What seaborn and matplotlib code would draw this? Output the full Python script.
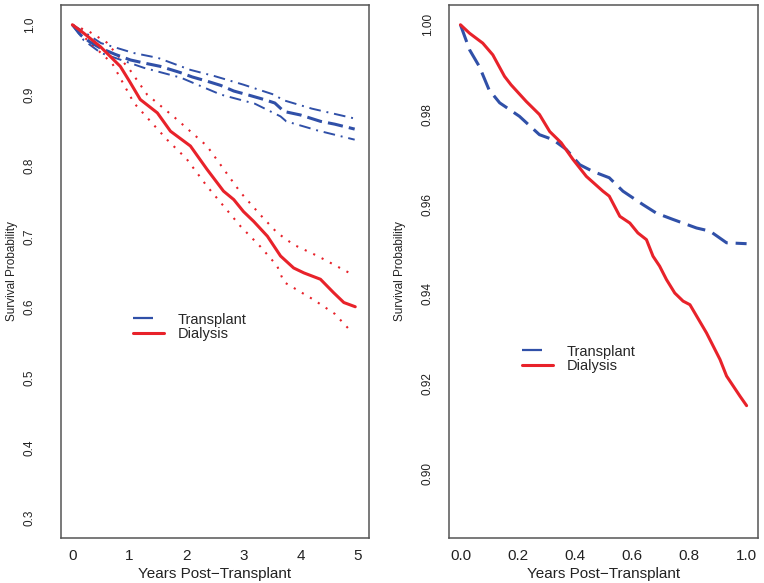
import seaborn as sns
import matplotlib.pyplot as plt
import pandas as pd
import numpy as np
from matplotlib.lines import Line2D

# ---- left panel: 5-year survival with confidence bands ----
tx5_t = [0, 0.15, 0.3, 0.49, 0.75, 1.02, 1.3, 1.54, 1.9, 2.1, 2.36, 2.6, 2.83, 3.1, 3.36, 3.55, 3.71, 4.0, 4.35, 4.6, 4.95]
tx5_s = [1.0, 0.985, 0.976, 0.967, 0.958, 0.950, 0.945, 0.941, 0.932, 0.926, 0.920, 0.914, 0.906, 0.900, 0.894, 0.889, 0.877, 0.872, 0.863, 0.859, 0.852]
tx5_up_t = [0, 0.2, 0.5, 1.07, 1.5, 2.07, 2.5, 3.0, 3.53, 3.7, 4.2, 4.95]
tx5_up_s = [1.0, 0.99, 0.974, 0.960, 0.953, 0.936, 0.927, 0.915, 0.901, 0.893, 0.881, 0.867]
tx5_lo_t = [0, 0.2, 0.5, 1.25, 1.9, 2.6, 3.2, 3.65, 3.75, 4.3, 4.95]
tx5_lo_s = [1.0, 0.978, 0.960, 0.939, 0.925, 0.901, 0.888, 0.870, 0.863, 0.850, 0.837]

di5_t = [0, 0.2, 0.49, 0.84, 1.0, 1.19, 1.49, 1.72, 2.07, 2.36, 2.65, 2.83, 3.0, 3.18, 3.42, 3.65, 3.88, 4.06, 4.35, 4.58, 4.76, 4.96]
di5_s = [1.0, 0.988, 0.969, 0.941, 0.920, 0.894, 0.875, 0.849, 0.828, 0.795, 0.764, 0.752, 0.735, 0.721, 0.700, 0.672, 0.655, 0.648, 0.639, 0.620, 0.606, 0.600]
di5_up_t = [0, 0.3, 0.6, 1.0, 1.31, 1.8, 2.36, 2.95, 3.3, 3.59, 3.88, 4.3, 4.95]
di5_up_s = [1.0, 0.990, 0.975, 0.937, 0.901, 0.868, 0.828, 0.762, 0.730, 0.705, 0.688, 0.672, 0.644]
di5_lo_t = [0, 0.3, 0.7, 1.08, 1.66, 2.0, 2.36, 2.95, 3.3, 3.59, 3.71, 4.23, 4.6, 4.91]
di5_lo_s = [1.0, 0.975, 0.945, 0.889, 0.837, 0.810, 0.771, 0.714, 0.685, 0.658, 0.635, 0.610, 0.590, 0.563]

# ---- right panel: first year ----
tx1_t = [0, 0.032, 0.066, 0.1, 0.137, 0.206, 0.276, 0.323, 0.37, 0.417, 0.463, 0.52, 0.568, 0.638, 0.685, 0.743, 0.825, 0.872, 0.93, 1.0]
tx1_s = [1.0, 0.9944, 0.9907, 0.9855, 0.9826, 0.9796, 0.9755, 0.9744, 0.9722, 0.9688, 0.9673, 0.9659, 0.9629, 0.9599, 0.958, 0.9566, 0.9547, 0.954, 0.9514, 0.9512]
di1_t = [0, 0.032, 0.078, 0.113, 0.154, 0.177, 0.23, 0.276, 0.312, 0.352, 0.393, 0.44, 0.498, 0.52, 0.557, 0.592, 0.62, 0.65, 0.673, 0.696, 0.72, 0.749, 0.778, 0.802, 0.86, 0.907, 0.93, 0.977, 1.0]
di1_s = [1.0, 0.9981, 0.9959, 0.9933, 0.9885, 0.9866, 0.9829, 0.980, 0.9762, 0.9737, 0.970, 0.9662, 0.9629, 0.9618, 0.9573, 0.9558, 0.9536, 0.9521, 0.9484, 0.9462, 0.9432, 0.9402, 0.9384, 0.9376, 0.9313, 0.9254, 0.9217, 0.9172, 0.9151]

groups = ["Transplant", "Dialysis"]
left_yticks = [0.3, 0.4, 0.5, 0.6, 0.7, 0.8, 0.9, 1.0]
left_xticks = [0, 1, 2, 3, 4, 5]
right_yticks = [0.90, 0.92, 0.94, 0.96, 0.98, 1.00]
right_xticks = [0.0, 0.2, 0.4, 0.6, 0.8, 1.0]

blue = "#3050a8"
red = "#e8222a"
grey = "#555555"

sns.set_style("white")
plt.rcParams['font.family'] = ['Liberation Sans', 'DejaVu Sans']

fig = plt.figure(figsize=(7.64, 5.83), dpi=100)
ax1 = fig.add_axes([0.0798, 0.0772, 0.4031, 0.9142])
ax2 = fig.add_axes([0.5877, 0.0772, 0.4045, 0.9142])


def line(ax, t, s, color, lw, ls):
    df = pd.DataFrame({"t": t, "s": s})
    sns.lineplot(data=df, x="t", y="s", ax=ax, color=color, linewidth=lw,
                 linestyle=ls, estimator=None, sort=False, errorbar=None)


# left
line(ax1, tx5_up_t, tx5_up_s, blue, 1.4, (0, (6, 3, 1, 3)))
line(ax1, tx5_lo_t, tx5_lo_s, blue, 1.4, (0, (6, 3, 1, 3)))
line(ax1, di5_up_t, di5_up_s, red, 1.5, (0, (1, 3.5)))
line(ax1, di5_lo_t, di5_lo_s, red, 1.5, (0, (1, 3.5)))
line(ax1, tx5_t, tx5_s, blue, 2.2, (0, (5, 2)))
line(ax1, di5_t, di5_s, red, 2.2, "-")

# right
line(ax2, tx1_t, tx1_s, blue, 2.2, (0, (6, 2.6)))
line(ax2, di1_t, di1_s, red, 2.2, "-")


def style(ax, xticks, yticks, ylim, xfmt, yfmt, leg_xy, ypad):
    xr = xticks[-1] - xticks[0]
    ax.set_xlim(xticks[0] - 0.04 * xr, xticks[-1] + 0.04 * xr)
    yr = ylim[1] - ylim[0]
    ax.set_ylim(ylim[0] - 0.04 * yr, ylim[1] + 0.04 * yr)
    ax.set_xticks(xticks)
    ax.set_xticklabels([xfmt.format(v) for v in xticks])
    ax.set_yticks(yticks)
    ax.set_yticklabels([yfmt.format(v) for v in yticks], rotation=90, va="center")
    ax.tick_params(axis="x", length=5, width=1, color=grey, labelsize=11, pad=3, labelcolor="#222222")
    ax.tick_params(axis="y", length=6, width=1, color=grey, labelsize=8.5, pad=ypad, labelcolor="#222222")
    for sp in ax.spines.values():
        sp.set_color(grey)
        sp.set_linewidth(1.1)
    ax.set_xlabel("Years Post\u2212Transplant", fontsize=11, color="#222222", labelpad=3)
    ax.set_ylabel("Survival Probability", fontsize=8.5, color="#222222")
    ax.yaxis.set_label_coords(-0.14, 0.5)
    handles = [Line2D([], [], color=blue, lw=1.6, linestyle=(0, (9, 12))),
               Line2D([], [], color=red, lw=2.2)]
    ax.legend(handles, groups, loc="center left", bbox_to_anchor=leg_xy,
              frameon=False, fontsize=10.5, handlelength=2.15, handletextpad=0.95,
              labelspacing=0.05, borderpad=0, borderaxespad=0)


style(ax1, left_xticks, left_yticks, (0.3, 1.0), "{:d}", "{:.1f}", (0.233, 0.396), 12)
style(ax2, right_xticks, right_yticks, (0.89, 1.0), "{:.1f}", "{:.2f}", (0.235, 0.336), 5)

plt.savefig("out.png", dpi=100)
